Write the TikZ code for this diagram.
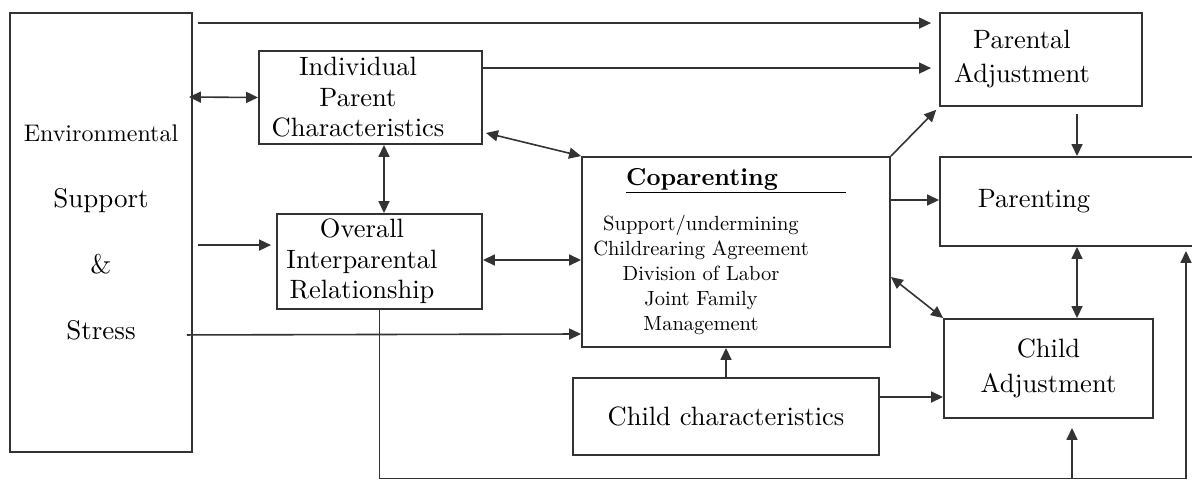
\documentclass[tikz,border=0pt]{standalone}
\usepackage{fontspec}
\setmainfont{lmroman10-regular.otf}[BoldFont=lmroman10-bold.otf]
\usepackage{tikz}
\usetikzlibrary{arrows.meta}

\newcommand{\padr}[1]{\rule{#1pt}{0pt}}

\begin{document}
\begin{tikzpicture}
	[x=1pt, y=-1pt,
	box_style/.style={draw=black!80, line width=1.9pt, rectangle, inner sep=3pt, align=center, text=black},
	big_text/.style={font=\fontsize{26.5}{30.5}\selectfont},
	arrow_style/.style={draw=black!80, line width=1.6pt, -{Triangle[length=12pt,width=11pt]}},
	both_style/.style={draw=black!80, line width=1.6pt, {Triangle[length=12pt,width=11pt]}-{Triangle[length=12pt,width=11pt]}}]
	\useasboundingbox (0,0) rectangle (1192,480);

	\node[box_style, minimum width=182pt, minimum height=439pt, font=\fontsize{27}{66}\selectfont] (env) at (101,232.5)
		{{\fontsize{24}{66}\selectfont Environmental}\\Support\\\&\\Stress};
	\node[box_style, big_text, minimum width=202pt, minimum height=93pt] (pa) at (1041,59.5)
		{Parental\padr{38}\\[3.5pt]Adjustment\padr{38}};
	\node[box_style, big_text, minimum width=223pt, minimum height=93pt] (ipc) at (370.5,97.5)
		{Individual\padr{25}\\Parent\padr{25}\\Characteristics\padr{25}};
	\node[box_style, big_text, minimum width=205pt, minimum height=95pt] (ov) at (379.5,261.5)
		{Overall\padr{35}\\Interparental\padr{35}\\Relationship\padr{35}};
	\node[box_style, minimum width=308pt, minimum height=190pt, font=\fontsize{20.5}{25}\selectfont] (cop) at (736,252)
		{{\fontsize{24.5}{25}\selectfont\bfseries\underline{Coparenting\hspace*{68pt}}}\\[20pt]
		Support/undermining\padr{70}\\Childrearing Agreement\padr{70}\\Division of Labor\padr{70}\\Joint Family\padr{70}\\Management\padr{70}};
	\node[box_style, big_text, minimum width=256pt, minimum height=89pt] (par) at (1068,201.5) {Parenting\padr{68}};
	\node[box_style, big_text, minimum width=209pt, minimum height=99pt] (ca) at (1048.5,368.5) {Child\\[4pt]Adjustment};
	\node[box_style, big_text, minimum width=306pt, minimum height=77pt] (cc) at (726,416.5) {Child characteristics};

	\coordinate (fb_left) at (379.5,478.5);
	\coordinate (fb_mid) at (1072,478.5);
	\coordinate (fb_right) at (1186,478.5);

	\draw[arrow_style, shorten >=8pt] ([xshift=5pt,yshift=-11pt]env.north east) -- ([yshift=-11pt]pa.north west);
	\draw[arrow_style, shorten >=8pt] ([yshift=-18pt]ipc.north east) -- ([yshift=-56pt]pa.north west);
	\draw[both_style, shorten <=-4pt] ([yshift=-85pt]env.north east) -- (ipc.west);
	\draw[both_style] ([xshift=13.5pt]ipc.south) -- ([xshift=4.5pt]ov.north);
	\draw[arrow_style, shorten >=5pt] ([xshift=5pt,yshift=-233pt]env.north east) -- ([yshift=-32pt]ov.north west);
	\draw[both_style] ([yshift=1.5pt]ov.east) -- ([yshift=-8pt]cop.west);
	\draw[arrow_style] ([xshift=-6pt,yshift=118pt]env.south east) -- ([yshift=-82pt]cop.west);
	\draw[both_style] ([xshift=3pt,yshift=12pt]ipc.south east) -- (cop.north west);
	\draw[arrow_style, shorten >=4pt] (cop.north east) -- (pa.south west);
	\draw[arrow_style] ([yshift=52pt]cop.east) -- ([yshift=1.5pt]par.west);
	\draw[arrow_style] ([xshift=36pt,yshift=-7pt]pa.south) -- ([xshift=9pt]par.north);
	\draw[both_style] ([xshift=9pt]par.south) -- ([xshift=28.5pt]ca.north);
	\draw[both_style] ([yshift=-25pt]cop.east) -- (ca.north west);
	\draw[arrow_style] (cc.north) -- (cop.south -| cc.north);
	\draw[arrow_style] ([yshift=19.5pt]cc.east) -- ([yshift=-28.5pt]ca.west);
	\draw[arrow_style, shorten >=4pt] (ov.south) -- (fb_left) -- (fb_right) -- (fb_right |- par.south);
	\draw[arrow_style, shorten >=9pt] (fb_mid) -- (fb_mid |- ca.south);
\end{tikzpicture}
\end{document}
